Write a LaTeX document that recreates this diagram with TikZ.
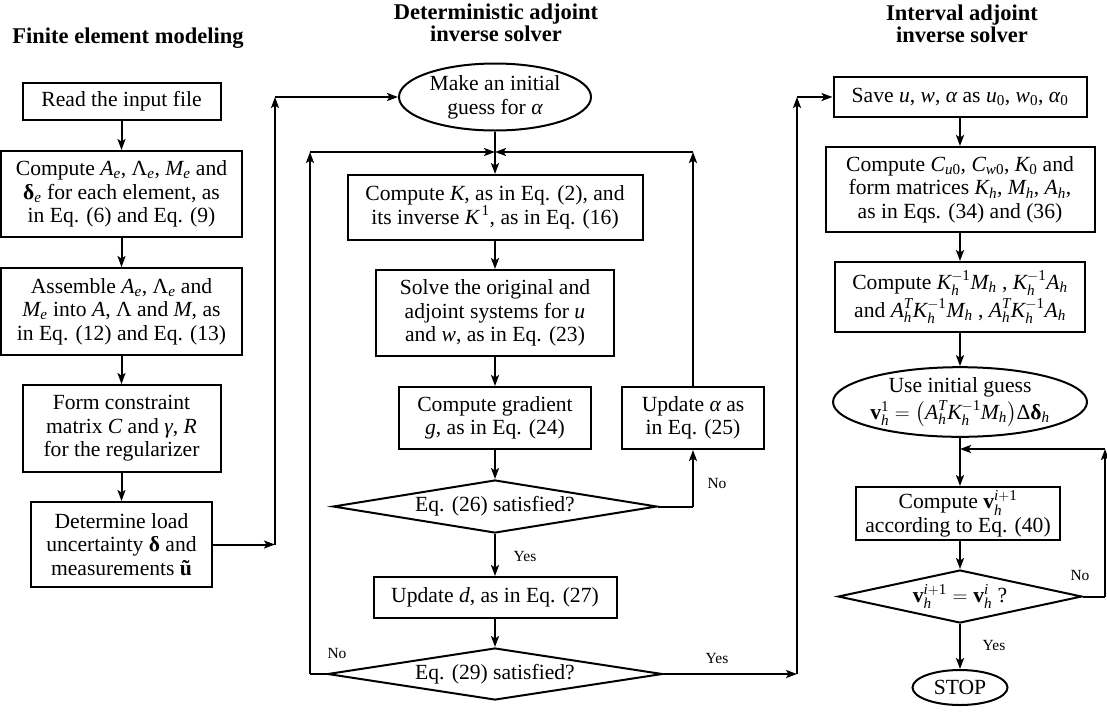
\documentclass[tikz,border=0pt]{standalone}
\usepackage{amsmath}
\usepackage{fontspec}
\setmainfont{Liberation Serif}
\usetikzlibrary{shapes.geometric,arrows.meta,calc}
\newcommand{\mvi}[1]{\text{\normalfont\itshape #1}}
\newcommand{\mvb}[1]{\text{\normalfont\bfseries #1}}
\newcommand{\mvn}[1]{\text{\normalfont #1}}
\begin{document}
\begin{tikzpicture}[x=1pt,y=-1pt,line width=2pt,
  >={Stealth[length=11pt,width=8pt,inset=2.5pt]},
  box/.style={draw,rectangle,inner sep=0pt,align=center,font=\fontsize{21.6}{23.5}\selectfont},
  oval/.style={draw,ellipse,inner sep=0pt,align=center,font=\fontsize{21.6}{24}\selectfont},
  dia/.style={draw,diamond,aspect=6,inner sep=0pt,align=center,font=\fontsize{21.6}{23.5}\selectfont},
  ttl/.style={align=center,inner sep=0pt,font=\fontsize{22.5}{22.5}\selectfont\bfseries},
  lbl/.style={inner sep=0pt,font=\fontsize{15.5}{18}\selectfont}]
\useasboundingbox (0,0) rectangle (1107,713);

% titles
\node[ttl] (t1) at (128,38) {Finite element modeling};
\node[ttl] (t2) at (496,23) {Deterministic adjoint\\inverse solver};
\node[ttl] (t3) at (962,24) {Interval adjoint\\inverse solver};

% left column
\node[box,minimum width=198,minimum height=37] (read) at (121.5,101) {Read the input file};
\node[box,minimum width=241,minimum height=86] (compA) at (121.5,194)
  {Compute $\mvi{A}_{\mvi{e}}$, $\mvn{Λ}_{\mvi{e}}$, $\mvi{M}_{\mvi{e}}$ and\\ $\mvb{δ}_{\mvi{e}}$ for each element, as\\ in Eq. (6) and Eq. (9)};
\node[box,minimum width=241,minimum height=87] (assem) at (121.5,311.5)
  {Assemble $\mvi{A}_{\mvi{e}}$, $\mvn{Λ}_{\mvi{e}}$ and\\ $\mvi{M}_{\mvi{e}}$ into $\mvi{A}$, $\mvn{Λ}$ and $\mvi{M}$, as\\ in Eq. (12) and Eq. (13)};
\node[box,minimum width=198,minimum height=87] (form) at (121.5,428.5)
  {Form constraint\\ matrix $\mvi{C}$ and $\mvi{γ}$, $\mvi{R}$\\ for the regularizer};
\node[box,minimum width=181,minimum height=85] (det) at (121.5,544.5)
  {Determine load\\ uncertainty $\mvb{δ}$ and\\ measurements $\mvb{ũ}$};

% middle column
\node[oval,minimum width=192,minimum height=67] (ell) at (495,97) {Make an initial\\ guess for $\mvi{α}$};
\node[box,minimum width=295,minimum height=65] (kbox) at (495,207.5)
  {Compute $\mvi{K}$, as in Eq. (2), and\\ its inverse $\mvi{K}^{\,\mvn{1}}$, as in Eq. (16)};
\node[box,minimum width=238,minimum height=86] (solve) at (495,313)
  {Solve the original and\\ adjoint systems for $\mvi{u}$\\ and $\mvi{w}$, as in Eq. (23)};
\node[box,minimum width=192,minimum height=62] (grad) at (495,418)
  {Compute gradient\\ $\mvi{g}$, as in Eq. (24)};
\node[dia,minimum width=324,minimum height=53] (d26) at (495,506.5) {Eq. (26) satisfied?};
\node[box,minimum width=243,minimum height=41] (upd) at (495,597.5) {Update $\mvi{d}$, as in Eq. (27)};
\node[dia,minimum width=335,minimum height=52] (d29) at (495,674) {Eq. (29) satisfied?};
\node[box,minimum width=142,minimum height=62] (alpha) at (693,418) {Update $\mvi{α}$ as\\ in Eq. (25)};

% right column
\node[box,minimum width=253,minimum height=40] (save) at (960,97)
  {Save $\mvi{u}$, $\mvi{w}$, $\mvi{α}$ as $\mvi{u}_{\mvn{0}}$, $\mvi{w}_{\mvn{0}}$, $\mvi{α}_{\mvn{0}}$};
\node[box,minimum width=269,minimum height=85] (compC) at (960,189.5)
  {Compute $\mvi{C}_{\mvi{u}\mvn{0}}$, $\mvi{C}_{\mvi{w}\mvn{0}}$, $\mvi{K}_{\mvn{0}}$ and\\ form matrices $\mvi{K}_{\mvi{h}}$, $\mvi{M}_{\mvi{h}}$, $\mvi{A}_{\mvi{h}}$,\\ as in Eqs. (34) and (36)};
\node[box,minimum width=250,minimum height=70,font=\fontsize{21.6}{28}\selectfont] (compK) at (960,297)
  {Compute $\mvi{K}_{\mvi{h}}^{-\mvn{1}}\mvi{M}_{\mvi{h}}$ , $\mvi{K}_{\mvi{h}}^{-\mvn{1}}\mvi{A}_{\mvi{h}}$\\ and $\mvi{A}_{\mvi{h}}^{\mvi{T}}\mvi{K}_{\mvi{h}}^{-\mvn{1}}\mvi{M}_{\mvi{h}}$ , $\mvi{A}_{\mvi{h}}^{\mvi{T}}\mvi{K}_{\mvi{h}}^{-\mvn{1}}\mvi{A}_{\mvi{h}}$};
\node[oval,minimum width=254,minimum height=66,font=\fontsize{21.6}{27}\selectfont] (ell2) at (960,402)
  {Use initial guess\\ $\mvb{v}_{\mvi{h}}^{\mvn{1}}=\bigl(\mvi{A}_{\mvi{h}}^{\mvi{T}}\mvi{K}_{\mvi{h}}^{-\mvn{1}}\mvi{M}_{\mvi{h}}\bigr)\mvn{Δ}\mvb{δ}_{\mvi{h}}$};
\node[box,minimum width=204,minimum height=53] (cv) at (958,513.5)
  {Compute $\mvb{v}_{\mvi{h}}^{\mvi{i}+\mvn{1}}$\\ according to Eq. (40)};
\node[dia,minimum width=229,minimum height=53] (d40) at (960,596.5)
  {$\mvb{v}_{\mvi{h}}^{\mvi{i}+\mvn{1}}=\mvb{v}_{\mvi{h}}^{\mvi{i}}$ ?};
\node[oval,minimum width=95,minimum height=35] (stop) at (960,687.5) {STOP};

% labels
\node[lbl] (yes1) at (525,556) {Yes};
\node[lbl] (no1) at (717,483) {No};
\node[lbl] (no2) at (337,653) {No};
\node[lbl] (yes2) at (717,658) {Yes};
\node[lbl] (no3) at (1080,575) {No};
\node[lbl] (yes3) at (994,645) {Yes};

% coordinates
\coordinate (c1) at (275,544.5);
\coordinate (c2) at (275,97);
\coordinate (j1) at (495,152);
\coordinate (l1) at (310,674);
\coordinate (l2) at (310,152);
\coordinate (r1) at (693,506.5);
\coordinate (r2) at (693,152);
\coordinate (y1) at (797,674);
\coordinate (y2) at (797,97);
\coordinate (j2) at (960,449);
\coordinate (q1) at (1105,596.5);
\coordinate (q2) at (1105,449);

% left connectors
\draw[->] (read.south) -- (compA.north);
\draw[->] (compA.south) -- (assem.north);
\draw[->] (assem.south) -- (form.north);
\draw[->] (form.south) -- (det.north);
\draw[->] (det.east) -- (c1);
\draw[->] (c1) -- (c2);
\draw[->] (c2) -- (ell.west);

% middle connectors
\draw[->] (ell.south) -- (kbox.north);
\draw[->] (kbox.south) -- (solve.north);
\draw[->] (solve.south) -- (grad.north);
\draw[->] (grad.south) -- (d26.north);
\draw[->] (d26.south) -- (upd.north);
\draw[->] (upd.south) -- (d29.north);
\draw (d26.east) -- (r1);
\draw[->] (r1) -- (alpha.south);
\draw[->] (alpha.north) -- (r2);
\draw[->] (r2) -- (j1);
\draw (d29.west) -- (l1);
\draw[->] (l1) -- (l2);
\draw[->] (l2) -- (j1);
\draw[->] (d29.east) -- (y1);
\draw[->] (y1) -- (y2);
\draw[->] (y2) -- (save.west);

% right connectors
\draw[->] (save.south) -- (compC.north);
\draw[->] (compC.south) -- (compK.north);
\draw[->] (compK.south) -- (ell2.north);
\draw[->] (ell2.south) -- (ell2.south |- cv.north);
\draw[->] (ell2.south |- cv.south) -- (d40.north);
\draw (d40.east) -- (q1);
\draw[->] (q1) -- (q2);
\draw[->] (q2) -- (j2);
\draw[->] (d40.south) -- (stop.north);
\end{tikzpicture}
\end{document}
